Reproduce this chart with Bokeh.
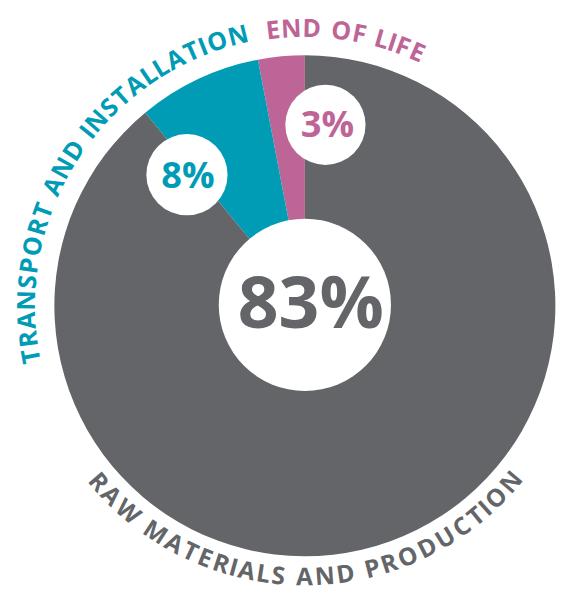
import numpy as np
from bokeh.plotting import figure
from bokeh.models import Range1d, ColumnDataSource
from bokeh.core.properties import value
from bokeh.embed import file_html
from bokeh.resources import INLINE

# ---- data ----
categories = ["RAW MATERIALS AND PRODUCTION", "TRANSPORT AND INSTALLATION", "END OF LIFE"]
values = [83, 8, 3]
colors = ["#636569", "#009bb5", "#bd6597"]

FONT = "Open Sans"

# ---- layout (reference pixels, centre of pie at origin, y up) ----
CX, CY = 309, 312
W, H = 556, 593
S = H / 606.0                      # screen px per reference px
OX, OY = 2.0, 0.0                  # screen offset of reference origin
R_PIE = 256

x0 = -CX - OX / S
y1 = CY + OY / S
p = figure(width=W, height=H,
           x_range=Range1d(x0, x0 + W / S),
           y_range=Range1d(y1 - H / S, y1),
           output_backend="svg", toolbar_location=None, min_border=0)
p.axis.visible = False
p.grid.visible = False
p.outline_line_color = None
p.background_fill_color = "white"
p.border_fill_color = "white"


def px(n):
    return f"{n * S:.1f}px"


# wedges: counter-clockwise from 12 o'clock: end of life, transport, then raw materials fills the rest
deg = np.pi / 180.0
start = 90 * deg
a_eol_end = start + values[2] / 100 * 2 * np.pi
a_tr_end = a_eol_end + values[1] / 100 * 2 * np.pi
wedges = ColumnDataSource(dict(
    start=[start, a_eol_end, a_tr_end],
    end=[a_eol_end, a_tr_end, start + 2 * np.pi],
    color=[colors[2], colors[1], colors[0]],
))
p.wedge(x=0, y=0, radius=R_PIE, start_angle="start", end_angle="end",
        color="color", line_color=None, source=wedges)

# white label discs: (disc x, disc y, radius, text dx, text dy)
disc_pos = [(0, 1, 88, 6, 4), (-120.5, 134, 41.5, 1, 1), (21, 185, 41, 2, 2)]
for (dx, dy, r, tx, ty), v, c, fs in zip(disc_pos, values, colors, [73, 37, 37]):
    p.circle(x=[dx], y=[dy], radius=r, fill_color="white", line_color=None)
    p.text(x=[dx + tx], y=[dy + ty], text=[f"{v}%"], text_color=c, text_font=value(FONT),
           text_font_style="bold", text_font_size=px(fs),
           text_align="center", text_baseline="middle")

# curved category labels
WID = dict(A=0.68, B=0.64, C=0.66, D=0.72, E=0.56, F=0.53, I=0.28, L=0.50, M=0.85,
           N=0.74, O=0.78, P=0.60, R=0.62, S=0.55, T=0.58, U=0.72, W=0.95)
WID[" "] = 0.30


def arc_text(label, th0, th1, r, color, inward=False, size=25.5):
    w = np.array([WID[c] for c in label])
    cum = np.cumsum(np.concatenate([[0], w[:-1]])) + w / 2
    frac = (cum - cum[0]) / (cum[-1] - cum[0])
    th = (th0 + (th1 - th0) * frac) * deg
    xs = r * np.cos(th)
    ys = r * np.sin(th)
    ang = th + np.pi / 2 if inward else th - np.pi / 2
    p.text(x=xs, y=ys, text=list(label), angle=ang, text_color=color,
           text_font=value(FONT), text_font_style="bold", text_font_size=px(size),
           text_align="center", text_baseline="middle")


arc_text(categories[1], 190.4, 103.9, 286, colors[1])
arc_text(categories[2], 96.6, 66.1, 285, colors[2])
arc_text(categories[0], -139.5, -40.5, 276, colors[0], inward=True, size=25)

open("out.html", "w").write(file_html(p, INLINE))
